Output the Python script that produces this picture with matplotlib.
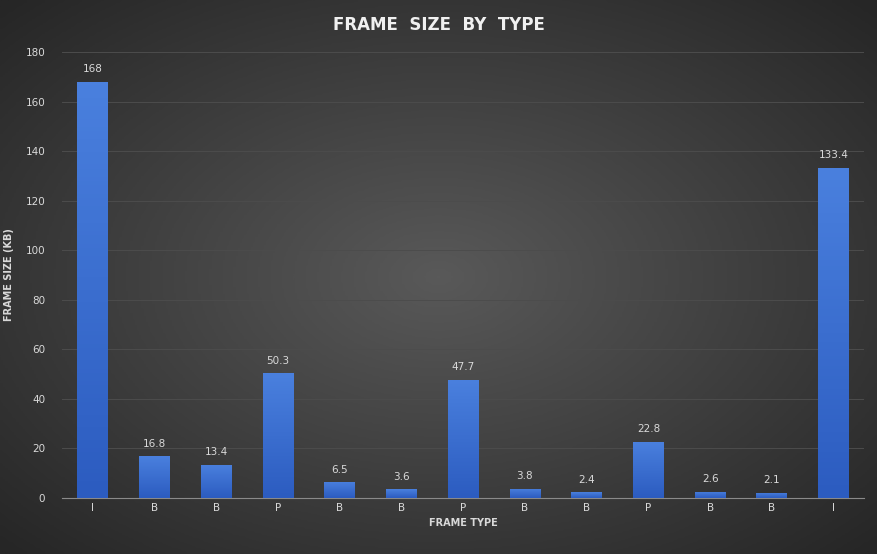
import numpy as np
import matplotlib
matplotlib.use("Agg")
import matplotlib.pyplot as plt
from matplotlib.colors import LinearSegmentedColormap

categories = ["I", "B", "B", "P", "B", "B", "P", "B", "B", "P", "B", "B", "I"]
values = [168, 16.8, 13.4, 50.3, 6.5, 3.6, 47.7, 3.8, 2.4, 22.8, 2.6, 2.1, 133.4]
labels = ["168", "16.8", "13.4", "50.3", "6.5", "3.6", "47.7", "3.8", "2.4", "22.8", "2.6", "2.1", "133.4"]

fig = plt.figure(figsize=(8.77, 5.54), dpi=100)
bg = fig.add_axes([0, 0, 1, 1], zorder=-10)
yy, xx = np.mgrid[-1:1:300j, -1:1:400j]
r = np.sqrt(xx**2 + yy**2)
bgcmap = LinearSegmentedColormap.from_list("bg", ["#595959", "#262626"])
bg.imshow(r, cmap=bgcmap, aspect="auto", extent=[0, 1, 0, 1], vmin=0, vmax=1.4)
bg.axis("off")

ax = fig.add_axes([0.0707, 0.101, 0.915, 0.805])
ax.patch.set_alpha(0)
x = np.arange(len(values))
bars = ax.bar(x, values, width=0.5, color="#3d6fd0", zorder=2)
grad = LinearSegmentedColormap.from_list("bar", ["#2c5cc0", "#4a80de"])
for b in bars:
    x0, y0 = b.get_x(), b.get_y()
    w, h = b.get_width(), b.get_height()
    im = ax.imshow(np.linspace(0, 1, 100).reshape(-1, 1), cmap=grad, origin="lower",
                   extent=[x0, x0 + w, y0, y0 + h], aspect="auto", zorder=3)
    im.set_clip_path(b)
for xi, v, l in zip(x, values, labels):
    ax.text(xi, v + 3, l, ha="center", va="bottom", color="#d9d9d9", fontsize=7.5)

ax.set_xlim(-0.5, len(values) - 0.5)
ax.set_ylim(0, 180)
ax.set_yticks(range(0, 181, 20))
ax.set_xticks(x)
ax.set_xticklabels(categories)
ax.grid(axis="y", color="#4c4c4c", linewidth=0.7, zorder=0)
for s in ["top", "right", "left"]:
    ax.spines[s].set_visible(False)
ax.spines["bottom"].set_color("#8a8a8a")
ax.tick_params(axis="both", colors="#d9d9d9", labelsize=7.5, length=0)
ax.tick_params(axis="y", pad=12)
ax.set_xlabel("FRAME TYPE", color="#d9d9d9", fontsize=7, fontweight="bold", labelpad=4)
ax.set_ylabel("FRAME SIZE (KB)", color="#d9d9d9", fontsize=7, fontweight="bold", labelpad=8)
fig.text(0.5, 0.955, "FRAME  SIZE  BY  TYPE", ha="center", va="center", color="#f0f0f0",
         fontsize=12, fontweight="bold")
fig.savefig("out.png", dpi=100)
